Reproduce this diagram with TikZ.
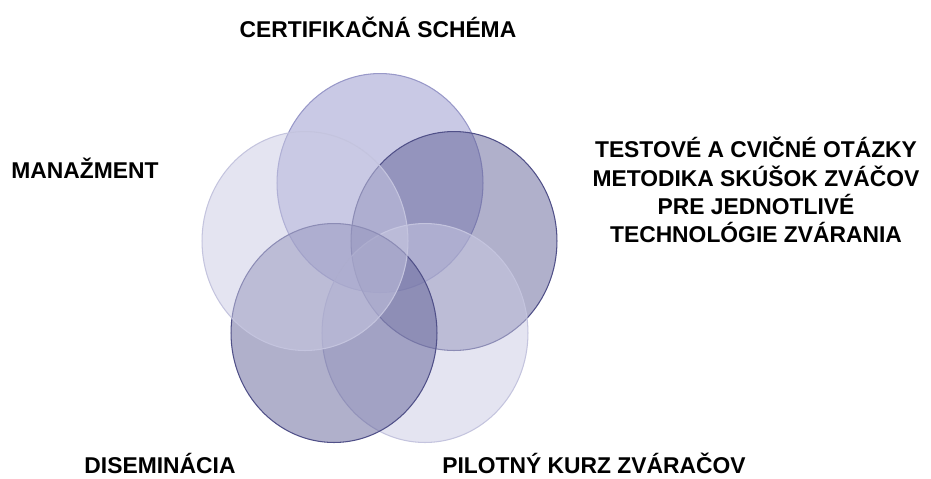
\documentclass[tikz,border=0pt]{standalone}
\usepackage{fontspec}
\setmainfont{Liberation Sans}
\usetikzlibrary{shapes.geometric}

\definecolor{ringmid}{RGB}{147,147,203}
\definecolor{ringlight}{RGB}{201,201,227}
\definecolor{ringdark}{RGB}{97,97,151}
\definecolor{edgemid}{RGB}{152,152,200}
\definecolor{edgelight}{RGB}{196,196,222}
\definecolor{edgedark}{RGB}{80,80,136}

\begin{document}
\begin{tikzpicture}[x=0.02cm, y=-0.02cm,
  ring/.style={ellipse, minimum width=4.12cm, minimum height=4.38cm, inner sep=0pt, outer sep=0pt, fill opacity=0.5, line width=0.6pt},
  label/.style={font=\fontsize{13}{16}\selectfont\bfseries, text=black, inner sep=0pt}]
% Frame
\path (0,0) rectangle (931,478);

% Rings
\node[ring, fill=ringmid, draw=edgemid] (cert) at (380,183) {};
\node[ring, fill=ringdark, draw=edgedark] (test) at (454,241) {};
\node[ring, fill=ringlight, draw=edgelight] (pilot) at (425,333) {};
\node[ring, fill=ringdark, draw=edgedark] (disem) at (334,333) {};
\node[ring, fill=ringlight, draw=edgelight] (manaz) at (305,241) {};

% Labels
\node[label, anchor=base] (lcert) at (378,37) {CERTIFIKAČNÁ SCHÉMA};
\node[label, align=center] (ltest) at (756,190) {TESTOVÉ A CVIČNÉ OTÁZKY\\ METODIKA SKÚŠOK ZVÁČOV\\ PRE JEDNOTLIVÉ\\ TECHNOLÓGIE ZVÁRANIA};
\node[label, anchor=base] (lmanaz) at (85,178) {MANAŽMENT};
\node[label, anchor=base] (ldisem) at (160,473) {DISEMINÁCIA};
\node[label, anchor=base] (lpilot) at (594,473) {PILOTNÝ KURZ ZVÁRAČOV};
\end{tikzpicture}
\end{document}
